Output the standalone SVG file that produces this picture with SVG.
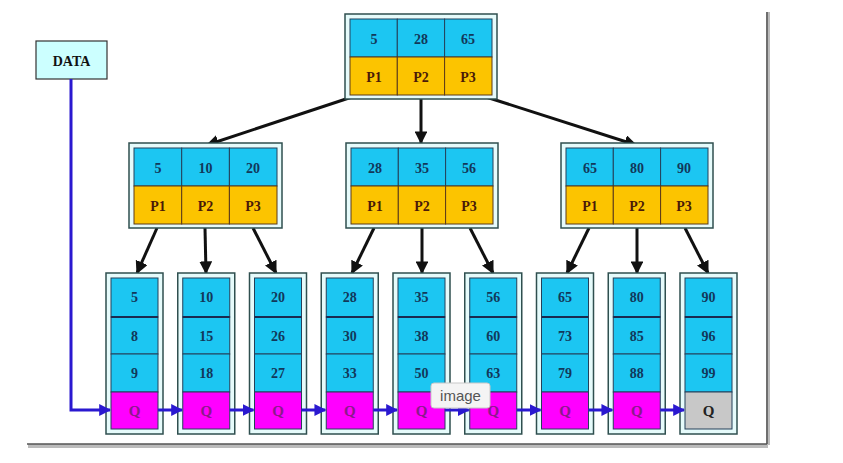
<svg xmlns="http://www.w3.org/2000/svg" width="843" height="463" viewBox="0 0 843 463">
<style>
.outer{fill:#e6fbfb;stroke:#2f4f4f;stroke-width:1.5}
.blue{fill:#1cc6f2;stroke:#24405a;stroke-width:1}
.yel{fill:#fcc400;stroke:#5a3a1a;stroke-width:1}
.mag{fill:#ff00ff;stroke:#24405a;stroke-width:1}
.gray{fill:#c8c8c8;stroke:#24405a;stroke-width:1}
.sep{stroke:#1a2a50;stroke-width:2}
text{font-family:"Liberation Serif","Times New Roman",serif;font-weight:bold;font-size:14px;text-anchor:middle;dominant-baseline:central}
.num{fill:#12385a}
.p{fill:#4a1a08}
.q{fill:#8a1a8a;font-size:15px}
.qk{fill:#222;font-size:15px}
.blk{stroke:#111;stroke-width:3;fill:none}
.bl{stroke:#2a18d0;stroke-width:3;fill:none}
</style>
<defs>
<marker id="ah" viewBox="0 0 10 10" refX="9" refY="5" markerWidth="4.3" markerHeight="4.3" orient="auto"><path d="M0,0 L10,5 L0,10 z" fill="#111"/></marker>
<marker id="bh" viewBox="0 0 10 10" refX="9" refY="5" markerWidth="4" markerHeight="4" orient="auto"><path d="M0,0 L10,5 L0,10 z" fill="#2a18d0"/></marker>
</defs>
<rect width="843" height="463" fill="#fff"/>
<g id="frame">
<line x1="768" y1="12" x2="768" y2="445" stroke="#bbb" stroke-width="4"/>
<line x1="28" y1="446" x2="768" y2="446" stroke="#bbb" stroke-width="4"/>
<line x1="767" y1="12" x2="767" y2="444" stroke="#555" stroke-width="1.5"/>
<line x1="27" y1="444" x2="767" y2="444" stroke="#555" stroke-width="1.5"/>
</g>
<g id="connectors">
<line class="blk" x1="352" y1="97" x2="207" y2="145" marker-end="url(#ah)"/>
<line class="blk" x1="421" y1="99" x2="421" y2="143" marker-end="url(#ah)"/>
<line class="blk" x1="486" y1="97" x2="636" y2="145" marker-end="url(#ah)"/>
<line class="blk" x1="157" y1="228" x2="137" y2="273" marker-end="url(#ah)"/>
<line class="blk" x1="205" y1="228" x2="206" y2="273" marker-end="url(#ah)"/>
<line class="blk" x1="253" y1="228" x2="276" y2="273" marker-end="url(#ah)"/>
<line class="blk" x1="374" y1="228" x2="352" y2="273" marker-end="url(#ah)"/>
<line class="blk" x1="422" y1="228" x2="422" y2="273" marker-end="url(#ah)"/>
<line class="blk" x1="470" y1="228" x2="493" y2="273" marker-end="url(#ah)"/>
<line class="blk" x1="589" y1="228" x2="567" y2="273" marker-end="url(#ah)"/>
<line class="blk" x1="637" y1="228" x2="637" y2="273" marker-end="url(#ah)"/>
<line class="blk" x1="685" y1="228" x2="708" y2="273" marker-end="url(#ah)"/>
</g>
<g id="root">
<rect class="outer" x="345" y="14" width="152" height="85"/>
<rect class="blue" x="350" y="19" width="47.3" height="38"/><rect class="blue" x="397.3" y="19" width="47.3" height="38"/><rect class="blue" x="444.6" y="19" width="47.4" height="38"/>
<rect class="yel" x="350" y="57" width="47.3" height="38"/><rect class="yel" x="397.3" y="57" width="47.3" height="38"/><rect class="yel" x="444.6" y="57" width="47.4" height="38"/>
<text class="num" x="374" y="39">5</text><text class="num" x="421" y="39">28</text><text class="num" x="468" y="39">65</text>
<text class="p" x="374" y="77">P1</text><text class="p" x="421" y="77">P2</text><text class="p" x="468" y="77">P3</text>
</g>
<g id="mid1">
<rect class="outer" x="129" y="143" width="153" height="85"/>
<rect class="blue" x="134" y="148" width="47.7" height="38"/><rect class="blue" x="181.7" y="148" width="47.7" height="38"/><rect class="blue" x="229.4" y="148" width="47.6" height="38"/>
<rect class="yel" x="134" y="186" width="47.7" height="38"/><rect class="yel" x="181.7" y="186" width="47.7" height="38"/><rect class="yel" x="229.4" y="186" width="47.6" height="38"/>
<text class="num" x="158" y="168">5</text><text class="num" x="205.5" y="168">10</text><text class="num" x="253" y="168">20</text>
<text class="p" x="158" y="206">P1</text><text class="p" x="205.5" y="206">P2</text><text class="p" x="253" y="206">P3</text>
</g>
<g id="mid2">
<rect class="outer" x="346" y="143" width="152" height="85"/>
<rect class="blue" x="351" y="148" width="47.3" height="38"/><rect class="blue" x="398.3" y="148" width="47.3" height="38"/><rect class="blue" x="445.6" y="148" width="47.4" height="38"/>
<rect class="yel" x="351" y="186" width="47.3" height="38"/><rect class="yel" x="398.3" y="186" width="47.3" height="38"/><rect class="yel" x="445.6" y="186" width="47.4" height="38"/>
<text class="num" x="375" y="168">28</text><text class="num" x="422" y="168">35</text><text class="num" x="469" y="168">56</text>
<text class="p" x="375" y="206">P1</text><text class="p" x="422" y="206">P2</text><text class="p" x="469" y="206">P3</text>
</g>
<g id="mid3">
<rect class="outer" x="561" y="143" width="152" height="85"/>
<rect class="blue" x="566" y="148" width="47.3" height="38"/><rect class="blue" x="613.3" y="148" width="47.3" height="38"/><rect class="blue" x="660.6" y="148" width="47.4" height="38"/>
<rect class="yel" x="566" y="186" width="47.3" height="38"/><rect class="yel" x="613.3" y="186" width="47.3" height="38"/><rect class="yel" x="660.6" y="186" width="47.4" height="38"/>
<text class="num" x="590" y="168">65</text><text class="num" x="637" y="168">80</text><text class="num" x="684" y="168">90</text>
<text class="p" x="590" y="206">P1</text><text class="p" x="637" y="206">P2</text><text class="p" x="684" y="206">P3</text>
</g>
<g id="data">
<rect x="36" y="41" width="71" height="38" fill="#ccffff" stroke="#333" stroke-width="1.2"/>
<text x="71.5" y="61" fill="#111" font-size="13">DATA</text>
</g>
<g id="leaves">
<g id="leaf1" transform="translate(111,0)">
<rect class="outer" x="-5" y="273" width="57" height="161"/>
<rect class="blue" x="0" y="278" width="47" height="39"/><rect class="blue" x="0" y="317" width="47" height="37"/><rect class="blue" x="0" y="354" width="47" height="38"/><rect class="mag" x="0" y="392" width="47" height="37"/>
<line class="sep" x1="0" y1="317" x2="47" y2="317"/>
<text class="num" x="23.5" y="297">5</text><text class="num" x="23.5" y="336">8</text><text class="num" x="23.5" y="373">9</text><text class="q" x="23.5" y="411">Q</text>
</g>
<g id="leaf2" transform="translate(182.75,0)">
<rect class="outer" x="-5" y="273" width="57" height="161"/>
<rect class="blue" x="0" y="278" width="47" height="39"/><rect class="blue" x="0" y="317" width="47" height="37"/><rect class="blue" x="0" y="354" width="47" height="38"/><rect class="mag" x="0" y="392" width="47" height="37"/>
<line class="sep" x1="0" y1="317" x2="47" y2="317"/>
<text class="num" x="23.5" y="297">10</text><text class="num" x="23.5" y="336">15</text><text class="num" x="23.5" y="373">18</text><text class="q" x="23.5" y="411">Q</text>
</g>
<g id="leaf3" transform="translate(254.5,0)">
<rect class="outer" x="-5" y="273" width="57" height="161"/>
<rect class="blue" x="0" y="278" width="47" height="39"/><rect class="blue" x="0" y="317" width="47" height="37"/><rect class="blue" x="0" y="354" width="47" height="38"/><rect class="mag" x="0" y="392" width="47" height="37"/>
<line class="sep" x1="0" y1="317" x2="47" y2="317"/>
<text class="num" x="23.5" y="297">20</text><text class="num" x="23.5" y="336">26</text><text class="num" x="23.5" y="373">27</text><text class="q" x="23.5" y="411">Q</text>
</g>
<g id="leaf4" transform="translate(326.25,0)">
<rect class="outer" x="-5" y="273" width="57" height="161"/>
<rect class="blue" x="0" y="278" width="47" height="39"/><rect class="blue" x="0" y="317" width="47" height="37"/><rect class="blue" x="0" y="354" width="47" height="38"/><rect class="mag" x="0" y="392" width="47" height="37"/>
<line class="sep" x1="0" y1="317" x2="47" y2="317"/>
<text class="num" x="23.5" y="297">28</text><text class="num" x="23.5" y="336">30</text><text class="num" x="23.5" y="373">33</text><text class="q" x="23.5" y="411">Q</text>
</g>
<g id="leaf5" transform="translate(398,0)">
<rect class="outer" x="-5" y="273" width="57" height="161"/>
<rect class="blue" x="0" y="278" width="47" height="39"/><rect class="blue" x="0" y="317" width="47" height="37"/><rect class="blue" x="0" y="354" width="47" height="38"/><rect class="mag" x="0" y="392" width="47" height="37"/>
<line class="sep" x1="0" y1="317" x2="47" y2="317"/>
<text class="num" x="23.5" y="297">35</text><text class="num" x="23.5" y="336">38</text><text class="num" x="23.5" y="373">50</text><text class="q" x="23.5" y="411">Q</text>
</g>
<g id="leaf6" transform="translate(469.75,0)">
<rect class="outer" x="-5" y="273" width="57" height="161"/>
<rect class="blue" x="0" y="278" width="47" height="39"/><rect class="blue" x="0" y="317" width="47" height="37"/><rect class="blue" x="0" y="354" width="47" height="38"/><rect class="mag" x="0" y="392" width="47" height="37"/>
<line class="sep" x1="0" y1="317" x2="47" y2="317"/>
<text class="num" x="23.5" y="297">56</text><text class="num" x="23.5" y="336">60</text><text class="num" x="23.5" y="373">63</text><text class="q" x="23.5" y="411">Q</text>
</g>
<g id="leaf7" transform="translate(541.5,0)">
<rect class="outer" x="-5" y="273" width="57" height="161"/>
<rect class="blue" x="0" y="278" width="47" height="39"/><rect class="blue" x="0" y="317" width="47" height="37"/><rect class="blue" x="0" y="354" width="47" height="38"/><rect class="mag" x="0" y="392" width="47" height="37"/>
<line class="sep" x1="0" y1="317" x2="47" y2="317"/>
<text class="num" x="23.5" y="297">65</text><text class="num" x="23.5" y="336">73</text><text class="num" x="23.5" y="373">79</text><text class="q" x="23.5" y="411">Q</text>
</g>
<g id="leaf8" transform="translate(613.25,0)">
<rect class="outer" x="-5" y="273" width="57" height="161"/>
<rect class="blue" x="0" y="278" width="47" height="39"/><rect class="blue" x="0" y="317" width="47" height="37"/><rect class="blue" x="0" y="354" width="47" height="38"/><rect class="mag" x="0" y="392" width="47" height="37"/>
<line class="sep" x1="0" y1="317" x2="47" y2="317"/>
<text class="num" x="23.5" y="297">80</text><text class="num" x="23.5" y="336">85</text><text class="num" x="23.5" y="373">88</text><text class="q" x="23.5" y="411">Q</text>
</g>
<g id="leaf9" transform="translate(685,0)">
<rect class="outer" x="-5" y="273" width="57" height="161"/>
<rect class="blue" x="0" y="278" width="47" height="39"/><rect class="blue" x="0" y="317" width="47" height="37"/><rect class="blue" x="0" y="354" width="47" height="38"/><rect class="gray" x="0" y="392" width="47" height="37"/>
<line class="sep" x1="0" y1="317" x2="47" y2="317"/>
<text class="num" x="23.5" y="297">90</text><text class="num" x="23.5" y="336">96</text><text class="num" x="23.5" y="373">99</text><text class="qk" x="23.5" y="411">Q</text>
</g>
</g>
<g id="links">
<path class="bl" d="M71,79 V410 H110" marker-end="url(#bh)"/>
<line class="bl" x1="158" y1="410" x2="182" y2="410" marker-end="url(#bh)"/>
<line class="bl" x1="229.75" y1="410" x2="253.5" y2="410" marker-end="url(#bh)"/>
<line class="bl" x1="301.5" y1="410" x2="325.25" y2="410" marker-end="url(#bh)"/>
<line class="bl" x1="373.25" y1="410" x2="397" y2="410" marker-end="url(#bh)"/>
<line class="bl" x1="445" y1="410" x2="468.75" y2="410" marker-end="url(#bh)"/>
<line class="bl" x1="516.75" y1="410" x2="540.5" y2="410" marker-end="url(#bh)"/>
<line class="bl" x1="588.5" y1="410" x2="612.25" y2="410" marker-end="url(#bh)"/>
<line class="bl" x1="660.25" y1="410" x2="684" y2="410" marker-end="url(#bh)"/>
</g>
<g id="tooltip">
<rect x="431" y="383" width="59" height="25" rx="3" fill="#f4f4f4" stroke="#c8c8c8" stroke-width="1"/>
<text x="460.5" y="395.5" style="font-family:'Liberation Sans',Arial,sans-serif;font-weight:normal;font-size:15px;fill:#555">image</text>
</g>
</svg>
